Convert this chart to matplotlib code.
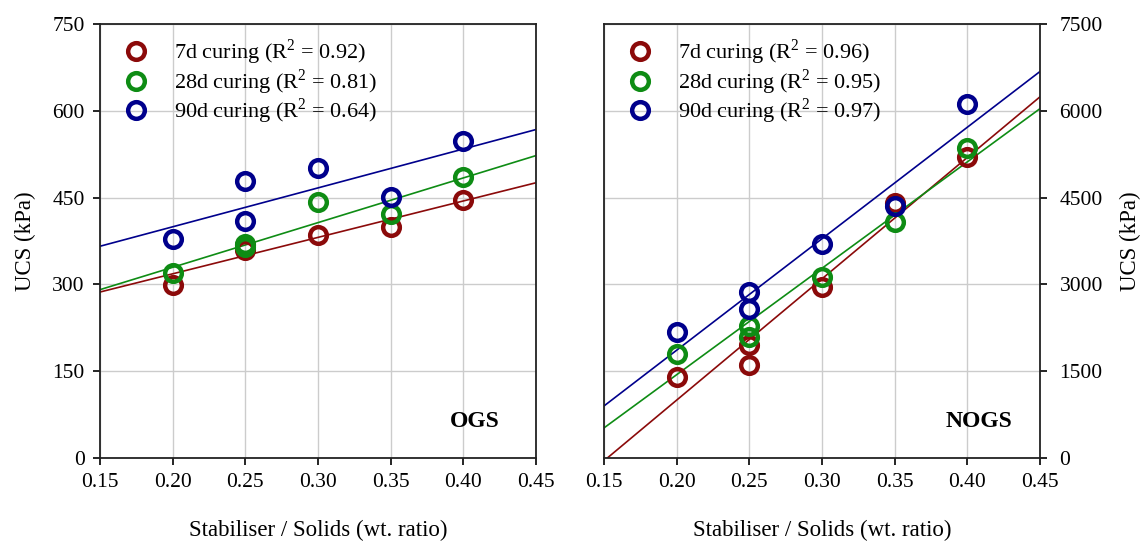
import matplotlib
matplotlib.use("Agg")
import matplotlib.pyplot as plt
import numpy as np

plt.rcParams['font.family'] = ['Liberation Serif', 'DejaVu Serif']
plt.rcParams['mathtext.fontset'] = 'custom'
plt.rcParams['mathtext.rm'] = 'Liberation Serif'
plt.rcParams['font.size'] = 16

# stabiliser / solids ratio of each specimen
ratio = [0.20, 0.25, 0.25, 0.30, 0.35, 0.40]

# OGS UCS (kPa)
ogs_7d = [299, 359, 368, 385, 400, 445]
ogs_28d = [319, 365, 370, 442, 421, 485]
ogs_90d = [378, 409, 479, 502, 451, 548]
ogs_r2 = ['0.92', '0.81', '0.64']

# NOGS UCS (kPa)
nogs_7d = [1405, 1953, 1607, 2960, 4412, 5196]
nogs_28d = [1797, 2281, 2096, 3133, 4083, 5362]
nogs_90d = [2172, 2868, 2569, 3693, 4354, 6117]
nogs_r2 = ['0.96', '0.95', '0.97']

curing = ['7d', '28d', '90d']
colors = ['#8b0a0a', '#0e8c14', '#00008c']

fig = plt.figure(figsize=(11.46, 5.41), dpi=100)
W, H = 1146.0, 541.0
ax1 = fig.add_axes([100 / W, (541 - 458) / H, 436 / W, 434 / H])
ax2 = fig.add_axes([604 / W, (541 - 458) / H, 436 / W, 434 / H])

panels = [
    (ax1, [ogs_7d, ogs_28d, ogs_90d], ogs_r2, 'OGS', 750),
    (ax2, [nogs_7d, nogs_28d, nogs_90d], nogs_r2, 'NOGS', 7500),
]

xfit = np.array([0.15, 0.45])
for ax, series, r2, name, ymax in panels:
    x = np.array(ratio)
    # regression lines first
    for vals, c in zip(series, colors):
        k, b = np.polyfit(x, vals, 1)
        ax.plot(xfit, k * xfit + b, color=c, lw=1.2, zorder=2)
    for vals, c, d, r in zip(series, colors, curing, r2):
        ax.plot(x, vals, 'o', mfc='none', mec=c, ms=12, mew=3.2, zorder=3,
                label=d + ' curing (R$^2$ = ' + r + ')')

    ax.set_xlim(0.15, 0.45)
    ax.set_ylim(0, ymax)
    ax.set_xticks(np.arange(0.15, 0.451, 0.05))
    ax.set_xticklabels(['%.2f' % v for v in np.arange(0.15, 0.451, 0.05)])
    ax.set_yticks(np.linspace(0, ymax, 6))
    ax.grid(True, color='#cccccc', lw=1)
    ax.set_axisbelow(True)
    ax.tick_params(direction='out', length=5, width=1.2, labelsize=15.5, pad=6)
    for s in ax.spines.values():
        s.set_linewidth(1.3)
        s.set_color('#222222')
    ax.set_xlabel('Stabiliser / Solids (wt. ratio)', fontsize=16.5, labelpad=20)
    ax.text(0.86, 0.083, name, transform=ax.transAxes, ha='center', va='center',
            fontsize=17, fontweight='bold')
    ax.legend(loc='upper left', frameon=False, fontsize=16, handletextpad=0.75,
              borderaxespad=0.2, labelspacing=0.0, bbox_to_anchor=(0.0, 1.0))

ax1.set_ylabel('UCS (kPa)', fontsize=16.5, labelpad=12)
ax2.yaxis.tick_right()
ax2.yaxis.set_label_position('right')
ax2.tick_params(axis='y', left=False, right=True, pad=9)
ax2.set_ylabel('UCS (kPa)', fontsize=16.5, labelpad=12)

plt.savefig('out.png', dpi=100)
